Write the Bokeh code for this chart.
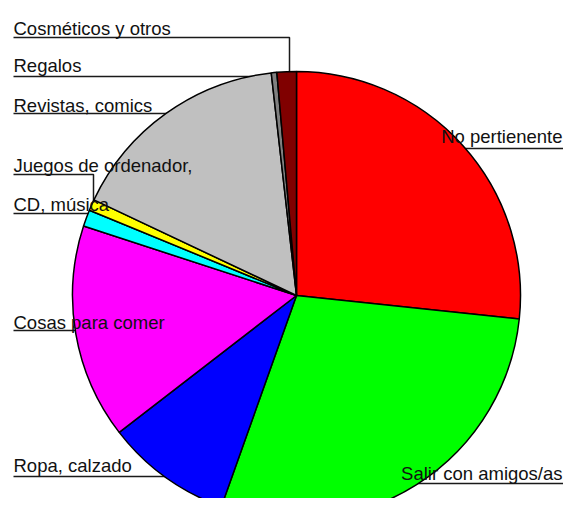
import math
from bokeh.plotting import figure
from bokeh.models import Range1d, ColumnDataSource
from bokeh.core.properties import value
from bokeh.embed import file_html
from bokeh.resources import INLINE

# ---- data ----
categories = ["No pertienente", "Salir con amigos/as", "Ropa, calzado", "Cosas para comer",
              "CD, música", "Juegos de ordenador,", "Revistas, comics", "Regalos",
              "Cosméticos y otros"]
values = [26.7, 28.8, 9.1, 15.5, 1.2, 0.8, 16.2, 0.4, 1.4]
colors = ["#FF0000", "#00FF00", "#0000FF", "#FF00FF", "#00FFFF", "#FFFF00",
          "#C0C0C0", "#808080", "#800000"]

# ---- label layout (pixel rows of the picture) ----
label_side = ["right", "right", "left", "left", "left", "left", "left", "left", "left"]
label_text_y = [136, 473, 465, 322, 204, 165, 105, 65, 28]
label_line_y = [148, 483, 476, 330, 213, 174, 113, 76, 37]
label_elbow_x = [None, None, None, None, None, 93, None, None, 289]

W, H = 563, 498
IMG_H = 514


def Y(y):
    return IMG_H - y


p = figure(width=W, height=H, x_range=Range1d(0, W), y_range=Range1d(IMG_H - H, IMG_H),
           output_backend="svg", toolbar_location=None, min_border=0)
p.axis.visible = False
p.grid.visible = False
p.outline_line_color = None
p.background_fill_color = "white"
p.border_fill_color = "white"

cx, cy_img, r = 296, 295, 224
cy = Y(cy_img)
LEFT_X, RIGHT_X = 13, W

# leader lines (drawn under the pie)
for side, ly, ex in zip(label_side, label_line_y, label_elbow_x):
    if side == "left":
        if ex is None:
            xs, ys = [LEFT_X, cx], [Y(ly), Y(ly)]
        else:
            xs, ys = [LEFT_X, ex, ex], [Y(ly), Y(ly), cy]
    else:
        xs, ys = [cx, RIGHT_X], [Y(ly), Y(ly)]
    p.line(xs, ys, line_color="#1a1a1a", line_width=1.5)

# pie
total = sum(values)
starts, ends = [], []
cum = 0.0
for v in values:
    a1 = 90 - 360 * cum / total
    cum += v
    a2 = 90 - 360 * cum / total
    starts.append(math.radians(a2))
    ends.append(math.radians(a1))
src = ColumnDataSource(dict(cat=categories, val=values, color=colors, start=starts, end=ends))
p.wedge(x=cx, y=cy, radius=r, start_angle="start", end_angle="end",
        fill_color="color", line_color="black", line_width=1.5, source=src)

# label texts
lx, ly_, la, lt = [], [], [], []
for cat, side, ty in zip(categories, label_side, label_text_y):
    lt.append(cat)
    ly_.append(Y(ty))
    if side == "left":
        lx.append(LEFT_X)
        la.append("left")
    else:
        lx.append(RIGHT_X - 1)
        la.append("right")
tsrc = ColumnDataSource(dict(x=lx, y=ly_, t=lt, a=la))
p.text(x="x", y="y", text="t", text_align="a", text_baseline="alphabetic",
       text_font=value("Liberation Sans"), text_font_size="18.5px", text_color="#111111",
       source=tsrc)

open("out.html", "w").write(file_html(p, INLINE))
